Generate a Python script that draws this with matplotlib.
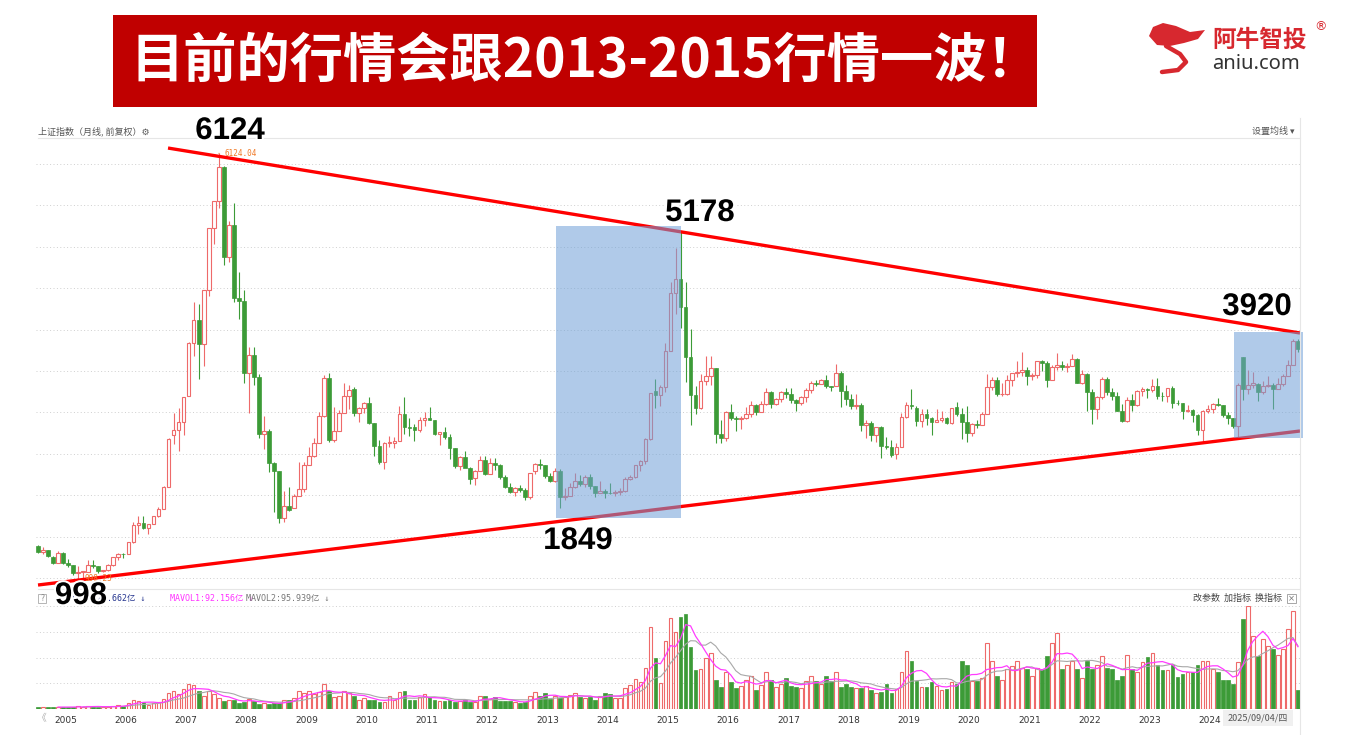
import matplotlib
matplotlib.use('Agg')
import matplotlib.pyplot as plt
import numpy as np
from matplotlib.patches import Rectangle, Polygon
import matplotlib.patheffects as pe
import matplotlib.transforms as mtrans
from matplotlib.lines import Line2D

W, H = 1347, 735
CJK = ['Noto Sans CJK SC', 'DejaVu Sans']
MONO = ['DejaVu Sans Mono', 'Noto Sans CJK SC']

# ---------------- data (monthly, Oct 2004 .. Sep 2025) ----------------
opens = [
    1396, 1320, 1340,
    1261, 1191, 1306, 1181, 1159, 1060, 1080, 1083, 1162, 1155, 1092, 1099,
    1163, 1258, 1299, 1298, 1440, 1641, 1672, 1612, 1658, 1752, 1837, 2099,
    2728, 2786, 2881, 3196, 3841, 4109, 3820, 4471, 5218, 5552, 5954, 4871,
    5265, 4383, 4348, 3472, 3693, 3433, 2736, 2775, 2397, 2293, 1728, 1871,
    1849, 1990, 2082, 2373, 2477, 2632, 2959, 3412, 2667, 2779, 2995, 3195,
    3289, 2989, 3051, 3109, 2870, 2592, 2398, 2637, 2638, 2655, 2978, 2820,
    2825, 2790, 2905, 2928, 2911, 2743, 2762, 2701, 2567, 2359, 2468, 2333,
    2212, 2292, 2428, 2262, 2396, 2372, 2225, 2103, 2047, 2086, 2068, 1980,
    2289, 2385, 2365, 2236, 2177, 2300, 1979, 1993, 2098, 2174, 2141, 2220,
    2112, 2033, 2056, 2033, 2026, 2039, 2048, 2201, 2217, 2363, 2420, 2682,
    3258, 3210, 3310, 3747, 4441, 4611, 4277, 3663, 3205, 3052, 3382, 3445,
    3536, 2737, 2687, 3003, 2938, 2916, 2929, 2979, 3085, 3004, 3100, 3250,
    3105, 3159, 3241, 3222, 3154, 3117, 3192, 3273, 3360, 3348, 3393, 3317,
    3314, 3480, 3259, 3168, 3082, 3095, 2847, 2876, 2725, 2821, 2602, 2588,
    2497, 2584, 2940, 3090, 3057, 2898, 2978, 2932, 2886, 2905, 2929, 2871,
    3066, 2976, 2880, 2750, 2860, 2852, 2984, 3310, 3395, 3218, 3224, 3391,
    3474, 3483, 3509, 3441, 3446, 3615, 3591, 3397, 3543, 3568, 3547, 3563,
    3649, 3361, 3462, 3252, 3047, 3186, 3398, 3253, 3202, 3024, 2893, 3151,
    3087, 3255, 3279, 3272, 3323, 3204, 3202, 3291, 3119, 3110, 3018, 3029,
    2972, 2788, 3015, 3041, 3104, 3086, 2967, 2938, 2842, 3674, 3279, 3326,
    3347, 3250, 3320, 3335, 3279, 3347, 3444, 3573, 3858,
]
highs = [
    1400, 1384, 1342,
    1268, 1328, 1316, 1232, 1162, 1146, 1095, 1223, 1223, 1156, 1102, 1178,
    1262, 1305, 1310, 1445, 1680, 1758, 1757, 1662, 1757, 1864, 2113, 2698,
    2994, 3049, 3184, 3848, 4335, 4311, 4477, 5218, 5552, 6124, 5965, 5303,
    5522, 4695, 4473, 3786, 3786, 3458, 2952, 2804, 2400, 2298, 2051, 2100,
    2012, 2402, 2404, 2579, 2688, 3000, 3454, 3478, 3068, 3033, 3361, 3330,
    3306, 3071, 3130, 3181, 2873, 2669, 2646, 2719, 2707, 3073, 3186, 2939,
    2864, 2945, 3002, 3067, 2913, 2765, 2826, 2744, 2570, 2475, 2536, 2348,
    2302, 2478, 2476, 2451, 2453, 2383, 2243, 2153, 2103, 2132, 2086, 2276,
    2393, 2444, 2367, 2268, 2334, 2314, 2092, 2149, 2270, 2242, 2243, 2260,
    2114, 2177, 2075, 2146, 2061, 2087, 2218, 2248, 2366, 2430, 2693, 3239,
    3406, 3330, 3835, 4572, 4986, 5178, 4572, 4006, 3317, 3459, 3678, 3684,
    3538, 2915, 3018, 3097, 2952, 2959, 3069, 3140, 3099, 3133, 3301, 3264,
    3174, 3264, 3295, 3295, 3166, 3199, 3301, 3382, 3391, 3399, 3450, 3323,
    3587, 3495, 3333, 3220, 3219, 3109, 2915, 2896, 2827, 2838, 2703, 2666,
    2630, 2997, 3129, 3288, 3075, 3048, 3047, 2951, 3042, 3021, 2950, 3053,
    3127, 3058, 3074, 2869, 2914, 3003, 3458, 3433, 3425, 3359, 3456, 3474,
    3626, 3731, 3544, 3481, 3622, 3630, 3616, 3569, 3723, 3624, 3596, 3708,
    3651, 3513, 3480, 3282, 3195, 3424, 3424, 3296, 3247, 3101, 3181, 3226,
    3274, 3313, 3300, 3400, 3418, 3251, 3300, 3323, 3156, 3114, 3092, 3046,
    2976, 3025, 3091, 3120, 3174, 3090, 3000, 2939, 3358, 3674, 3509, 3494,
    3352, 3383, 3439, 3351, 3415, 3458, 3636, 3883, 3888,
]
lows = [
    1304, 1300, 1259,
    1177, 1182, 1173, 1136, 1043, 998, 1004, 1075, 1123, 1067, 1074, 1087,
    1156, 1228, 1246, 1294, 1432, 1541, 1593, 1541, 1658, 1744, 1836, 2099,
    2617, 2541, 2723, 3196, 3678, 3404, 3563, 4405, 5035, 5462, 4778, 4812,
    4330, 4123, 3357, 2990, 3333, 2693, 2566, 2284, 1802, 1664, 1678, 1814,
    1844, 1990, 2037, 2372, 2460, 2630, 2950, 2639, 2640, 2779, 2990, 3039,
    2963, 2890, 2990, 2861, 2481, 2382, 2319, 2585, 2573, 2654, 2744, 2721,
    2661, 2770, 2842, 2908, 2734, 2610, 2681, 2437, 2331, 2307, 2364, 2134,
    2132, 2290, 2242, 2253, 2307, 2203, 2091, 2032, 1999, 2043, 1949, 1959,
    2254, 2318, 2211, 2161, 2166, 1849, 1951, 1988, 2087, 2116, 2101, 2084,
    1984, 2024, 1974, 2014, 1991, 2010, 2041, 2185, 2210, 2301, 2383, 2673,
    3049, 3075, 3251, 3747, 4183, 4022, 3373, 2850, 2983, 3039, 3327, 3327,
    2638, 2638, 2660, 2912, 2780, 2807, 2925, 2951, 2969, 3000, 3095, 3056,
    3090, 3125, 3177, 3111, 3016, 3091, 3132, 3233, 3320, 3345, 3296, 3254,
    3314, 3062, 3092, 3041, 3041, 2782, 2691, 2653, 2644, 2449, 2564, 2462,
    2440, 2580, 2930, 3043, 2838, 2822, 2852, 2733, 2885, 2891, 2857, 2857,
    2963, 2685, 2646, 2720, 2814, 2850, 2984, 3270, 3202, 3200, 3209, 3325,
    3433, 3434, 3328, 3395, 3415, 3505, 3312, 3389, 3516, 3515, 3491, 3563,
    3357, 3344, 3023, 2863, 2927, 3159, 3211, 3155, 3021, 2885, 2885, 3017,
    3073, 3201, 3176, 3249, 3164, 3136, 3129, 3053, 3085, 2923, 3004, 2882,
    2724, 2635, 2993, 2994, 3084, 2948, 2865, 2815, 2689, 3152, 3228, 3300,
    3140, 3226, 3313, 3040, 3279, 3322, 3444, 3573, 3735,
]
closes = [
    1320, 1340, 1266,
    1191, 1306, 1181, 1159, 1060, 1080, 1083, 1162, 1155, 1092, 1099, 1161,
    1258, 1299, 1298, 1440, 1641, 1672, 1612, 1658, 1752, 1837, 2099, 2675,
    2786, 2881, 3183, 3841, 4109, 3820, 4471, 5218, 5552, 5954, 4871, 5261,
    4383, 4348, 3472, 3693, 3433, 2736, 2775, 2397, 2293, 1728, 1871, 1820,
    1990, 2082, 2373, 2477, 2632, 2959, 3412, 2667, 2779, 2995, 3195, 3277,
    2989, 3051, 3109, 2870, 2592, 2398, 2637, 2638, 2655, 2978, 2820, 2808,
    2790, 2905, 2928, 2911, 2743, 2762, 2701, 2567, 2359, 2468, 2333, 2199,
    2292, 2428, 2262, 2396, 2372, 2225, 2103, 2047, 2086, 2068, 1980, 2269,
    2385, 2365, 2236, 2177, 2300, 1979, 1993, 2098, 2174, 2141, 2220, 2116,
    2033, 2056, 2033, 2026, 2039, 2048, 2201, 2217, 2363, 2420, 2682, 3234,
    3210, 3310, 3747, 4441, 4611, 4277, 3663, 3205, 3052, 3382, 3445, 3539,
    2737, 2687, 3003, 2938, 2916, 2929, 2979, 3085, 3004, 3100, 3250, 3103,
    3159, 3241, 3222, 3154, 3117, 3192, 3273, 3360, 3348, 3393, 3317, 3307,
    3480, 3259, 3168, 3082, 3095, 2847, 2876, 2725, 2821, 2602, 2588, 2493,
    2584, 2940, 3090, 3078, 2898, 2978, 2932, 2886, 2905, 2929, 2871, 3050,
    2976, 2880, 2750, 2860, 2852, 2984, 3310, 3395, 3218, 3224, 3391, 3473,
    3483, 3509, 3441, 3446, 3615, 3591, 3397, 3543, 3568, 3547, 3563, 3639,
    3361, 3462, 3252, 3047, 3186, 3398, 3253, 3202, 3024, 2893, 3151, 3089,
    3255, 3279, 3272, 3323, 3204, 3202, 3291, 3119, 3110, 3018, 3029, 2974,
    2788, 3015, 3041, 3104, 3086, 2967, 2938, 2842, 3336, 3279, 3326, 3351,
    3250, 3320, 3335, 3279, 3347, 3444, 3573, 3857, 3765,
]
volumes = [  # 亿
    3, 3, 2.5,
    2.5, 3.5, 3, 3, 2.5, 4, 3, 5, 4, 3, 2.5, 3.5,
    4.5, 5.5, 5, 9, 14, 12, 10, 6.5, 9, 10, 15, 24,
    27, 22, 30, 38, 36, 27, 20, 27, 22, 16, 12, 14,
    14, 9, 11, 15, 12, 8, 9, 7, 9, 9, 13, 14,
    16, 27, 24, 27, 22, 25, 37, 27, 18, 19, 27, 24,
    20, 14, 16, 14, 14, 10, 11, 19, 13, 26, 27, 14,
    14, 18, 22, 18, 13, 12, 12, 13, 10, 12, 14, 10,
    10, 20, 20, 15, 18, 12, 12, 12, 10, 9, 10, 19,
    26, 19, 24, 15, 20, 17, 18, 21, 24, 18, 16, 18,
    14, 20, 24, 22.5, 16.5, 16.5, 31.5, 36, 45, 40.5, 61.5, 123,
    76.5, 39, 102, 136.5, 115.5, 138, 142.5, 93, 58.5, 60, 76.5, 84,
    43.5, 33, 55.5, 40.5, 31.5, 34.5, 43.5, 50, 28, 36, 56, 44,
    33, 38, 46, 35, 33, 31, 42, 50, 42, 38, 50, 42,
    55, 33, 38, 33, 31, 31, 35, 28, 24, 25, 38, 24,
    30, 55, 88, 72, 42, 33, 33, 40, 35, 28, 30, 41,
    38, 72, 66, 42, 42, 47, 100, 72, 50, 44, 60, 64,
    72, 62, 60, 50, 62, 60, 80, 100, 115, 60, 66, 72,
    60, 46, 72, 60, 66, 80, 62, 60, 44, 50, 82, 60,
    55, 70, 78, 85, 66, 58, 58, 66, 48, 52, 55, 55,
    66, 72, 72, 60, 55, 44, 44, 38, 70, 135, 155, 110,
    80, 105, 95, 90, 82, 90, 120, 148, 28.66,
]
years = list(range(2005, 2025))
year_index = [3 + 12 * k for k in range(len(years))]  # Jan of each year

# annotation values
peak_labels = ['6124', '5178', '3920', '1849', '998']
# trend lines (month index, price)
upper_line = ([25.9, 251.4], [6187, 3958])
lower_line = ([0.0, 251.4], [921, 2777])
# highlighted boxes (month index range, price range)
box1 = (103.2, 128.1, 1729, 5247)
box2 = (238.2, 252.0, 2693, 3970)

# ---------------- figure ----------------
fig = plt.figure(figsize=(W / 100, H / 100), dpi=100)
fig.patch.set_facecolor('white')


def fx(x):
    return x / W


def fy(y):
    return 1 - y / H


def ftext(x, y, s, **kw):
    return fig.text(fx(x), fy(y), s, **kw)


def fline(x0, y0, x1, y1, **kw):
    fig.add_artist(Line2D([fx(x0), fx(x1)], [fy(y0), fy(y1)], transform=fig.transFigure, **kw))


UP = '#ee6a6a'
DN = '#3c9b37'

# price axes
ax = fig.add_axes([fx(36), fy(588), (1300 - 36) / W, (588 - 138) / H])
ax.set_xlim(-0.4, 251.4)
ax.set_ylim(885, 6308)
ax.set_xticks([])
ax.set_yticks([])
for s in ax.spines.values():
    s.set_visible(False)
for g in range(1000, 6001, 500):
    ax.axhline(g, color='#cfcfcf', lw=0.7, ls=(0, (1, 2.5)), zorder=0)

n = len(closes)
bw = 0.74
for i in range(n):
    o, h, l, c = opens[i], highs[i], lows[i], closes[i]
    if c >= o:
        ax.add_patch(Rectangle((i - bw / 2, o), bw, max(c - o, 8), fc='white', ec=UP, lw=0.8, zorder=2))
        ax.vlines(i, c, h, color=UP, lw=0.8, zorder=2)
        ax.vlines(i, l, o, color=UP, lw=0.8, zorder=2)
    else:
        ax.vlines(i, l, h, color=DN, lw=0.8, zorder=2)
        ax.add_patch(Rectangle((i - bw / 2, c), bw, o - c, fc=DN, ec=DN, lw=0.5, zorder=2))

ax.plot(*upper_line, color='#ff0000', lw=2.4, zorder=3, solid_capstyle='butt')
ax.plot(*lower_line, color='#ff0000', lw=2.4, zorder=3, solid_capstyle='butt')

for (x0, x1, y0, y1) in (box1, box2):
    ax.add_patch(Rectangle((x0, y0), x1 - x0, y1 - y0, fc='#6fa0d7', ec='none',
                           alpha=0.55, zorder=4, clip_on=False))

# small orange markers
ax.annotate('6124.04', xy=(36, 6124), xytext=(37.2, 6124), fontsize=5.5, color='#f07a28',
            va='center', ha='left', family='DejaVu Sans Mono', zorder=5,
            arrowprops=dict(arrowstyle='-', color='#f07a28', lw=0.6))
ax.text(9.2, 998, '998.23', fontsize=5.5, color='#f07a28', va='center', ha='left',
        family='DejaVu Sans Mono', zorder=5)

# volume axes
axv = fig.add_axes([fx(36), fy(709), (1300 - 36) / W, (709 - 606) / H])
axv.set_xlim(-0.4, 251.4)
axv.set_ylim(0, 155)
for s in axv.spines.values():
    s.set_visible(False)
axv.set_yticks([])
for fr in (0.25, 0.5, 0.75, 1.0):
    axv.axhline(155 * fr, color='#cfcfcf', lw=0.7, ls=(0, (1, 2.5)), zorder=0)
vol = np.array(volumes, dtype=float)
for i in range(n):
    if closes[i] >= opens[i]:
        axv.add_patch(Rectangle((i - bw / 2, 0), bw, vol[i], fc='white', ec=UP, lw=0.8, zorder=2))
    else:
        axv.add_patch(Rectangle((i - bw / 2, 0), bw, vol[i], fc=DN, ec=DN, lw=0.5, zorder=2))


def sma(a, k):
    out = np.full(len(a), np.nan)
    for j in range(k - 1, len(a)):
        out[j] = a[j - k + 1:j + 1].mean()
    return out


idx = np.arange(n)
axv.plot(idx, sma(vol, 10), color='#a8a8a8', lw=0.8, zorder=3)
axv.plot(idx, sma(vol, 5), color='#ff3cff', lw=0.9, zorder=3)

axv.set_xticks(year_index)
axv.set_xticklabels([str(y) for y in years], fontsize=6.5, color='#333333', ha='left',
                    family='DejaVu Sans')
axv.tick_params(axis='x', length=0, pad=5)
for lab in axv.get_xticklabels():
    lab.set_transform(lab.get_transform() + mtrans.ScaledTranslation(1 / 100, 0, fig.dpi_scale_trans))

# separators
fline(38, 138, 1300, 138, color='#e6e6e6', lw=0.8)
fline(38, 589, 1300, 589, color='#e6e6e6', lw=0.8)
fline(1300, 118, 1300, 735, color='#e6e6e6', lw=0.8)

# header texts
ftext(38, 131, '上证指数（月线, 前复权）⚙', fontsize=6.5, color='#555555', family=CJK, va='center')
ftext(1252, 131, '设置均线 ▾', fontsize=6.5, color='#555555', family=CJK, va='center')

# volume legend
fig.patches.append(Rectangle((fx(38), fy(603)), 8 / W, 9 / H, transform=fig.transFigure,
                             fc='white', ec='#aaaaaa', lw=0.6))
ftext(42, 598.5, '?', fontsize=5.5, color='#888888', ha='center', va='center')
ftext(62, 598, 'VOLUME:28.662亿 ↓', fontsize=6, color='#25358f', family=MONO, va='center')
ftext(170, 598, 'MAVOL1:92.156亿 ↓', fontsize=6, color='#ff33ff', family=MONO, va='center')
ftext(246, 598, 'MAVOL2:95.939亿 ↓', fontsize=6, color='#777777', family=MONO, va='center')
ftext(1193, 598, '改参数  加指标  换指标', fontsize=6.5, color='#444444', family=CJK, va='center')
fig.patches.append(Rectangle((fx(1287), fy(603)), 9 / W, 9 / H, transform=fig.transFigure,
                             fc='white', ec='#999999', lw=0.6))
ftext(1291.5, 598.5, '×', fontsize=6, color='#777777', ha='center', va='center')

# bottom axis extras
ftext(42, 718, '《', fontsize=7, color='#aaaaaa', family=CJK, va='center', ha='center')
fig.patches.append(Rectangle((fx(1223), fy(726)), 70 / W, 16 / H, transform=fig.transFigure,
                             fc='#f0f0f0', ec='none'))
ftext(1258, 718, '2025/09/04/四', fontsize=6.5, color='#555555', family=CJK, va='center', ha='center')

# peak annotations
stroke = [pe.withStroke(linewidth=3, foreground='white')]
ann_pos = [(230, 131), (700, 213), (1257, 307), (578, 541), (81, 596)]
for lab, (px, py) in zip(peak_labels, ann_pos):
    ftext(px, py, lab, fontsize=22.5, fontweight='bold', color='black', family='Liberation Sans',
          ha='center', va='center', path_effects=stroke, zorder=10)

# title banner
fig.patches.append(Rectangle((fx(113), fy(107)), (1037 - 113) / W, (107 - 15) / H,
                             transform=fig.transFigure, fc='#c00000', ec='none'))
ftext(585, 61, '目前的行情会跟2013-2015行情一波！', fontsize=38.3, fontweight='heavy', color='white',
      family=CJK, ha='center', va='center')

# logo
head = [(1149, 36), (1153, 27), (1163, 23), (1176, 26), (1190, 32), (1205, 30),
        (1198, 39), (1184, 43), (1170, 46), (1157, 45)]
fig.patches.append(Polygon([(fx(x), fy(y)) for x, y in head], closed=True,
                           transform=fig.transFigure, fc='#d7282f', ec='none'))
tail_x = [1166, 1180, 1186, 1178, 1162]
tail_y = [46, 54, 62, 70, 72]
fig.add_artist(Line2D([fx(x) for x in tail_x], [fy(y) for y in tail_y], transform=fig.transFigure,
                      color='#d7282f', lw=3.2, solid_capstyle='round'))
ftext(1212, 40, '阿牛智投', fontsize=17, fontweight='bold', color='#d7282f', family=CJK, va='center')
ftext(1320, 27, '®', fontsize=9, color='#d7282f', va='center', ha='center')
ftext(1212, 64, 'aniu.com', fontsize=14.5, color='#333333', family='Noto Sans', va='center')

fig.savefig('out.png', dpi=100)
